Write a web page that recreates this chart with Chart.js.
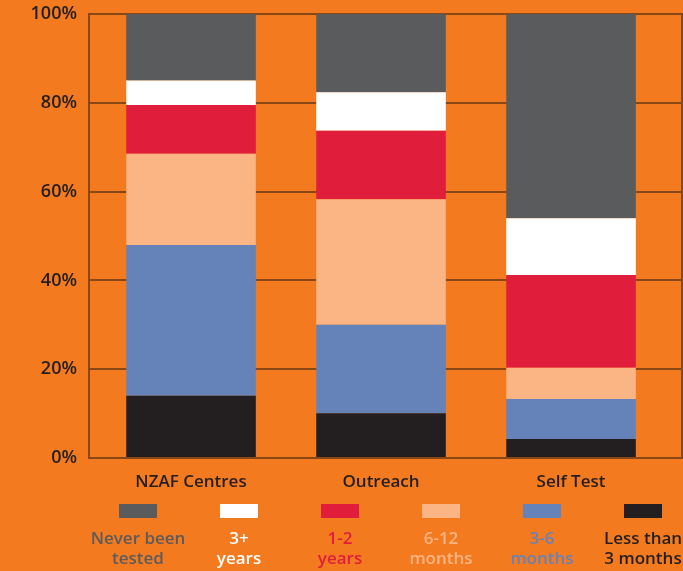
<!DOCTYPE html>
<html>
<head>
<meta charset="utf-8">
<script src="https://cdn.jsdelivr.net/npm/chart.js@4.4.0/dist/chart.umd.min.js"></script>
<style>
  html, body { margin: 0; padding: 0; background: #f47a20; }
  #wrap { width: 683px; height: 571px; position: relative; }
</style>
</head>
<body>
<div id="wrap"><canvas id="testChart" width="683" height="571"></canvas></div>
<script>
// categories and stacked series (percent of each group, bottom to top)
const categories = ['NZAF Centres', 'Outreach', 'Self Test'];
const lessThan3Months = [14, 10.1, 4.3];
const months3to6 = [34, 19.9, 9];
const months6to12 = [20.5, 28.3, 7];
const years1to2 = [11, 15.4, 20.9];
const years3plus = [5.5, 8.7, 12.8];
const neverTested = [15, 17.6, 46];
const yTicks = [0, 20, 40, 60, 80, 100];

const ink = '#231f20';
const gridColour = '#8a4716';
const fontFamily = '"Open Sans"';

function pts(arr) {
    return arr.map(function (v, i) { return { x: i, y: v }; });
}

// stacked bottom -> top; legend reads top -> bottom
const series = [
    { label: 'Less than\n3 months', data: lessThan3Months, color: '#231f20' },
    { label: '3-6\nmonths', data: months3to6, color: '#6583b9' },
    { label: '6-12\nmonths', data: months6to12, color: '#fbb584' },
    { label: '1-2\nyears', data: years1to2, color: '#e01e3b' },
    { label: '3+\nyears', data: years3plus, color: '#ffffff' },
    { label: 'Never been\ntested', data: neverTested, color: '#5a5b5d' }
];

// outline of the plot area + legend under the axis
const framePlugin = {
    id: 'frame',
    beforeDatasetsDraw(chart) {
        const a = chart.chartArea, c = chart.ctx;
        c.save();
        c.strokeStyle = gridColour;
        c.lineWidth = 2;
        c.strokeRect(a.left, a.top, a.right - a.left, a.bottom - a.top);
        c.restore();
    },
    afterDraw(chart) {
        const c = chart.ctx;
        const items = chart.data.datasets.slice().reverse();
        c.save();
        c.textAlign = 'center';
        c.textBaseline = 'middle';
        c.font = '600 17px ' + fontFamily;
        items.forEach(function (ds, i) {
            const cx = 138 + i * 101;
            c.fillStyle = ds.backgroundColor;
            c.fillRect(cx - 19, 504, 38, 14);
            ds.label.split('\n').forEach(function (line, k) {
                c.fillText(line, cx, 539 + k * 20);
            });
        });
        c.restore();
    }
};

const ctx = document.getElementById('testChart').getContext('2d');
new Chart(ctx, {
    type: 'bar',
    data: {
        datasets: series.map(function (s) {
            return {
                label: s.label,
                data: pts(s.data),
                backgroundColor: s.color,
                borderWidth: 0,
                categoryPercentage: 1,
                barPercentage: 0.682
            };
        })
    },
    options: {
        responsive: false,
        animation: false,
        layout: { padding: { top: 14, right: 1, left: 0, bottom: 0 } },
        plugins: {
            legend: { display: false },
            tooltip: { enabled: false }
        },
        scales: {
            x: {
                type: 'linear',
                stacked: true,
                offset: false,
                min: -0.537,
                max: 2.584,
                grid: { display: false },
                border: { display: false },
                afterFit: function (s) { s.height = 113; },
                afterBuildTicks: function (s) {
                    s.ticks = categories.map(function (c, i) { return { value: i }; });
                },
                ticks: {
                    padding: 6,
                    color: ink,
                    font: { family: fontFamily, size: 17, weight: '600' },
                    callback: function (v) { return categories[v]; }
                }
            },
            y: {
                stacked: true,
                min: 0,
                max: 100,
                grid: { color: gridColour, lineWidth: 2, drawTicks: false },
                border: { display: false },
                afterFit: function (s) { s.width = 89; },
                afterBuildTicks: function (s) {
                    s.ticks = yTicks.map(function (v) { return { value: v }; });
                },
                ticks: {
                    padding: 12,
                    color: ink,
                    // tiny lineHeight so the labels don't push the plot top down
                    font: { family: fontFamily, size: 18, weight: '600', lineHeight: 0.1 },
                    callback: function (v) { return v + '%'; }
                }
            }
        }
    },
    plugins: [framePlugin]
});
</script>
</body>
</html>
